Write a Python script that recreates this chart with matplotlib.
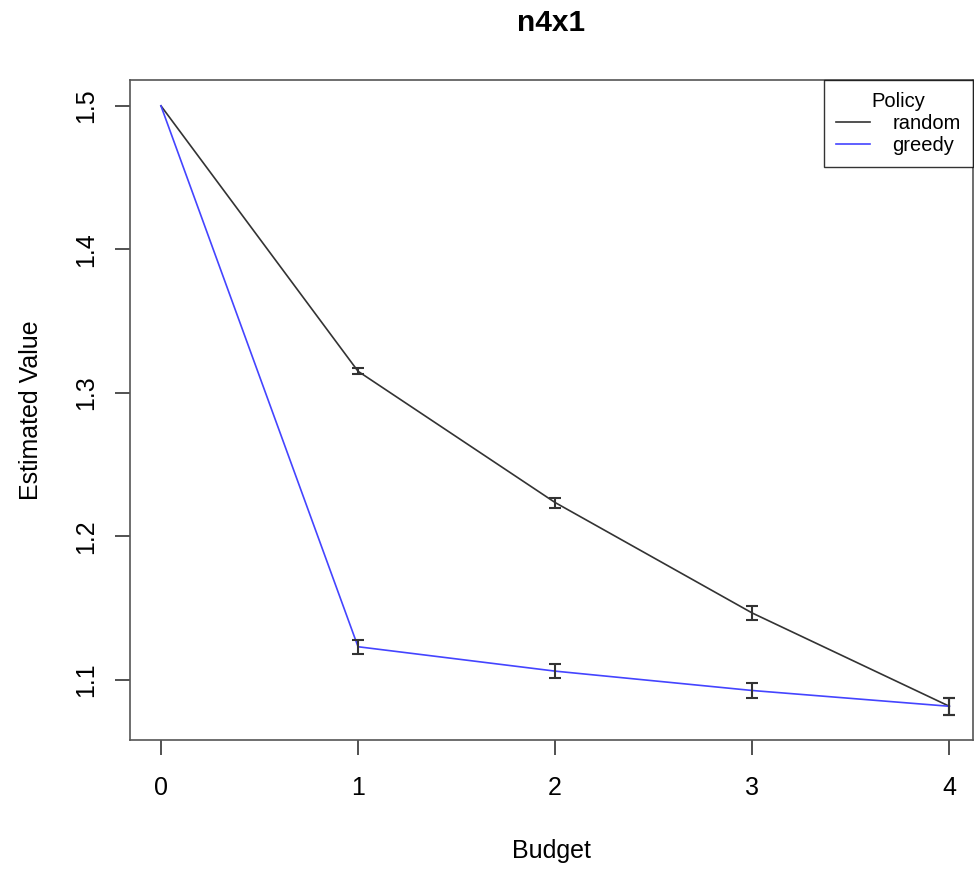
import matplotlib.pyplot as plt

plt.rcParams['font.family'] = ['Liberation Sans', 'DejaVu Sans']

budget = [0, 1, 2, 3, 4]
random_mean = [1.5, 1.315, 1.2235, 1.1465, 1.0815]
random_err = [0.0, 0.002, 0.0035, 0.0048, 0.006]
greedy_mean = [1.5, 1.123, 1.106, 1.0925, 1.0815]
greedy_err = [0.0, 0.005, 0.005, 0.0055, 0.006]

fig = plt.figure(figsize=(9.74, 8.69), dpi=100)
ax = fig.add_axes([130 / 974, 1 - 740 / 869, 843 / 974, 660 / 869])

ax.plot(budget, random_mean, color='#333333', lw=1.2, label='random')
ax.plot(budget, greedy_mean, color='#4444ff', lw=1.2, label='greedy')
ax.errorbar(budget[1:], random_mean[1:], yerr=random_err[1:], fmt='none',
            ecolor='#333333', elinewidth=1.5, capsize=4, capthick=1.5)
ax.errorbar(budget[1:], greedy_mean[1:], yerr=greedy_err[1:], fmt='none',
            ecolor='#333333', elinewidth=1.5, capsize=4, capthick=1.5)

ax.set_xlim(-0.157, 4.12)
ax.set_ylim(1.058, 1.518)
ax.set_xticks(budget)
ax.set_yticks([1.1, 1.2, 1.3, 1.4, 1.5])
ax.set_yticklabels(['1.1', '1.2', '1.3', '1.4', '1.5'], rotation=90, va='center')
ax.tick_params(labelsize=18, length=11, width=1.2, color='#333333', pad=12)
ax.tick_params(axis='x', pad=15)
for s in ax.spines.values():
    s.set_color('#555555')
    s.set_linewidth(1.2)

ax.set_title('n4x1', fontsize=21.5, fontweight='bold', pad=35)
ax.set_xlabel('Budget', fontsize=18, labelpad=28)
ax.set_ylabel('Estimated Value', fontsize=18, labelpad=22)

leg = ax.legend(title='Policy', loc='upper right', borderaxespad=0, fontsize=14.5,
                title_fontsize=14.5, fancybox=False, edgecolor='black',
                handlelength=1.7, handletextpad=1.1, labelspacing=0.15,
                borderpad=0.6)
leg.get_frame().set_linewidth(1.0)

fig.savefig('out.png', dpi=100)
